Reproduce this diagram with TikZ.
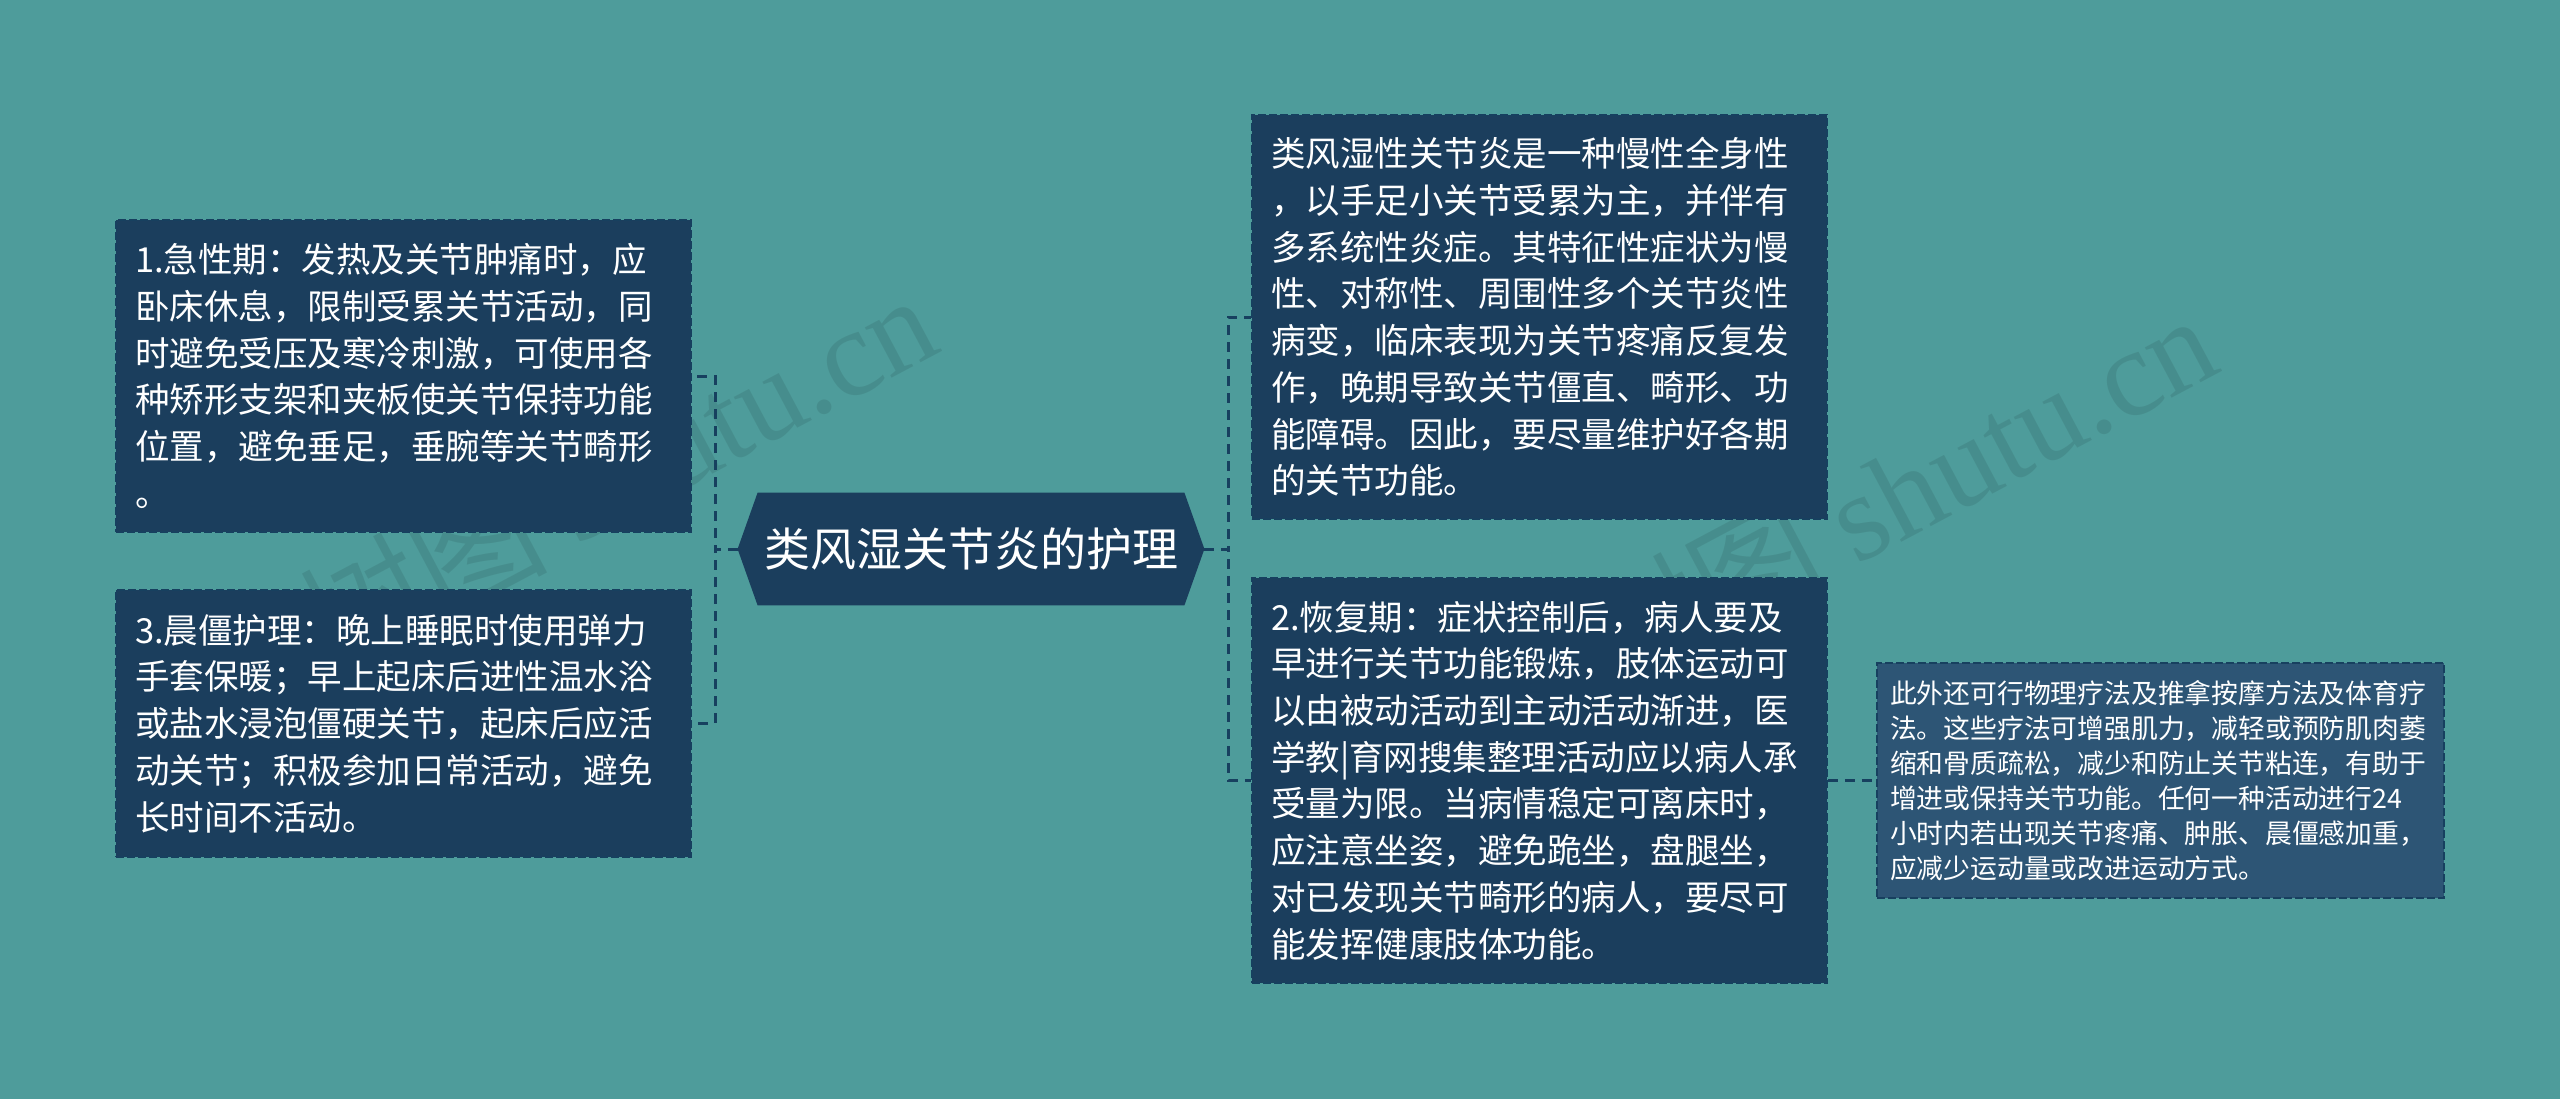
\documentclass[tikz,border=0pt]{standalone}
\usepackage{fontspec}
\setmainfont{Noto Sans CJK SC}
\newfontfamily\wmlatin{Liberation Serif}
\usetikzlibrary{backgrounds}
\definecolor{bgteal}{HTML}{4E9C9B}
\definecolor{boxfill}{HTML}{1B3E5D}
\definecolor{smfill}{HTML}{2D5575}
\definecolor{lineblue}{HTML}{17405F}
\begin{document}
\begin{tikzpicture}[x=0.5pt,y=-0.5pt,
  box/.style={draw=lineblue, fill=boxfill, dash pattern=on 4pt off 1.5pt, line width=0.8pt,
    text=white, align=left, inner xsep=9.5pt, inner ysep=0pt, text width=268.5pt,
    font=\fontsize{17.25pt}{23.35pt}\selectfont},
  smallbox/.style={draw=lineblue, fill=smfill, dash pattern=on 4pt off 1.5pt, line width=0.8pt,
    text=white, align=left, inner xsep=6.5pt, inner ysep=0pt, text width=270.5pt,
    font=\fontsize{13.4pt}{17.5pt}\selectfont},
  rootnode/.style={text=white, inner sep=0pt, minimum width=233pt, minimum height=56pt,
    font=\fontsize{23pt}{27pt}\selectfont},
  conn/.style={draw=lineblue, line width=1.5pt, dash pattern=on 5pt off 3.5pt},
  wm/.style={text=black, text opacity=0.09, inner sep=0pt, font=\fontsize{62pt}{70pt}\selectfont}]

\begin{scope}[on background layer]
\path[use as bounding box, fill=bgteal] (0,0) rectangle (2560,1099);
\node[wm, anchor=base east, rotate=28] (wm1) at (945,350) {树图 {\wmlatin shutu.cn}};
\node[wm, anchor=base east, rotate=28] (wm2) at (2225,370) {树图 {\wmlatin shutu.cn}};
\end{scope}

\node[rootnode] (root) at (971,549) {类风湿关节炎的护理};
\begin{scope}[on background layer]
\fill[boxfill] (root.west) -- ([xshift=10pt]root.north west) -- ([xshift=-10pt]root.north east)
  -- (root.east) -- ([xshift=-10pt]root.south east) -- ([xshift=10pt]root.south west) -- cycle;
\end{scope}

\node[box, minimum height=156pt] (b1) at (403.5,376) {1.急性期：发热及关节肿痛时，应\\
卧床休息，限制受累关节活动，同\\
时避免受压及寒冷刺激，可使用各\\
种矫形支架和夹板使关节保持功能\\
位置，避免垂足，垂腕等关节畸形\\
。};

\node[box, minimum height=133.5pt] (b3) at (403.5,723.5) {3.晨僵护理：晚上睡眠时使用弹力\\
手套保暖；早上起床后进性温水浴\\
或盐水浸泡僵硬关节，起床后应活\\
动关节；积极参加日常活动，避免\\
长时间不活动。};

\node[box, minimum height=202pt] (rt) at (1539.5,317) {类风湿性关节炎是一种慢性全身性\\
，以手足小关节受累为主，并伴有\\
多系统性炎症。其特征性症状为慢\\
性、对称性、周围性多个关节炎性\\
病变，临床表现为关节疼痛反复发\\
作，晚期导致关节僵直、畸形、功\\
能障碍。因此，要尽量维护好各期\\
的关节功能。};

\node[box, minimum height=202.5pt] (r2) at (1539.5,780.5) {2.恢复期：症状控制后，病人要及\\
早进行关节功能锻炼，肢体运动可\\
以由被动活动到主动活动渐进，医\\
学教|育网搜集整理活动应以病人承\\
受量为限。当病情稳定可离床时，\\
应注意坐姿，避免跪坐，盘腿坐，\\
对已发现关节畸形的病人，要尽可\\
能发挥健康肢体功能。};

\node[smallbox, minimum height=117.5pt] (sm) at (2160.5,780.5) {此外还可行物理疗法及推拿按摩方法及体育疗\\
法。这些疗法可增强肌力，减轻或预防肌肉萎\\
缩和骨质疏松，减少和防止关节粘连，有助于\\
增进或保持关节功能。任何一种活动进行24\\
小时内若出现关节疼痛、肿胀、晨僵感加重，\\
应减少运动量或改进运动方式。};

\coordinate (lj) at (715,549);
\coordinate (rj) at (1228,549);
\draw[conn] (root.west) -- (lj) |- (b1.east);
\draw[conn] (root.west) -- (lj) |- (b3.east);
\draw[conn] (root.east) -- (rj) |- (rt.west);
\draw[conn] (root.east) -- (rj) |- (r2.west);
\draw[conn] (r2.east) -- (sm.west);
\end{tikzpicture}
\end{document}
